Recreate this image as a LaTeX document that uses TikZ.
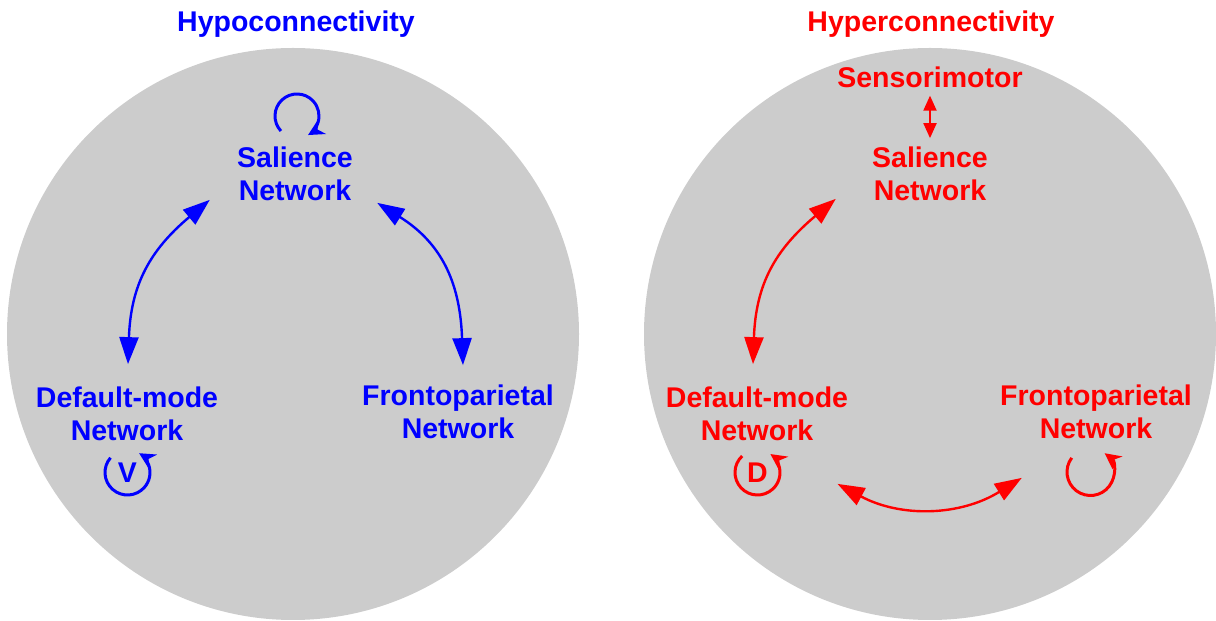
\documentclass[tikz,border=0pt]{standalone}
\usepackage{fontspec}
\setmainfont{Liberation Sans}
\usetikzlibrary{positioning,arrows.meta}

\definecolor{disc}{RGB}{204,204,204}
\definecolor{hypo}{RGB}{0,0,255}
\definecolor{hyper}{RGB}{255,0,0}

\begin{document}
\begin{tikzpicture}[x=0.5pt,y=0.5pt,
    net/.style={font=\bfseries\fontsize{14.25}{16.5}\selectfont, align=center, inner sep=0pt},
    link/.style={<->, >={Triangle[length=13.5pt,width=9.5pt]}, line width=1.2pt},
    selfloop/.style={-{Stealth[length=8pt,width=8pt,inset=2.5pt]}, line width=1.5pt}]
    \useasboundingbox (0,0) rectangle (1216,621);

    % the two discs
    \fill[disc] (293,287) circle[radius=286];
    \fill[disc] (930,287) circle[radius=286];

    \node[net, hypo, anchor=base] (hypoT) at (296,589) {Hypoconnectivity};
    \node[net, hyper, anchor=base] (hyperT) at (931,589) {Hyperconnectivity};

    % left disc
    \node[net, hypo] (salL) at (295,447.5) {Salience\\Network};
    \node[net, hypo] (dmnL) at (127,207.5) {Default-mode\\Network};
    \node[net, hypo] (fpnL) at (458,209.5) {Frontoparietal\\Network};
    \node[net, hypo] (vL) at (127.5,148.5) {V};
    \coordinate (salLoop) at (297,505);

    \draw[link, hypo] ([shift={(-27,1)}]salL.south west) to[out=220,in=88,looseness=1.1] ([shift={(1,22)}]dmnL.north);
    \draw[link, hypo] ([shift={(24,-2)}]salL.south east) to[out=-32,in=92,looseness=1.1] ([shift={(5,19)}]fpnL.north);
    \draw[selfloop, hypo] (salLoop) ++(223:22) arc[start angle=223, end angle=-60, radius=22];
    \draw[selfloop, hypo] (vL) ++(139:22.5) arc[start angle=139, end angle=419, radius=22.5];

    % right disc
    \node[net, hyper, anchor=base] (sens) at (930,533) {Sensorimotor};
    \node[net, hyper] (salR) at (930,447.5) {Salience\\Network};
    \node[net, hyper] (dmnR) at (757,207.5) {Default-mode\\Network};
    \node[net, hyper] (fpnR) at (1096,209.5) {Frontoparietal\\Network};
    \node[net, hyper] (dR) at (757.5,148.5) {D};
    \coordinate (fpnLoop) at (1090.5,149);

    \draw[<->, >={Triangle[length=7.5pt,width=6.5pt]}, line width=1pt, hyper] ([shift={(0,-7)}]sens.south) -- ([shift={(0,8)}]salR.north);
    \draw[link, hyper] ([shift={(-36,2)}]salR.south west) to[out=220,in=88,looseness=1.1] ([shift={(-4,22)}]dmnR.north);
    \draw[link, hyper] ([shift={(-11,-43)}]dmnR.south east) to[bend right=30] ([shift={(22,-39)}]fpnR.south west);
    \draw[selfloop, hyper] (dR) ++(133:22.5) arc[start angle=133, end angle=415, radius=22.5];
    \draw[selfloop, hyper] (fpnLoop) ++(143:23.5) arc[start angle=143, end angle=413, radius=23.5];
\end{tikzpicture}
\end{document}
